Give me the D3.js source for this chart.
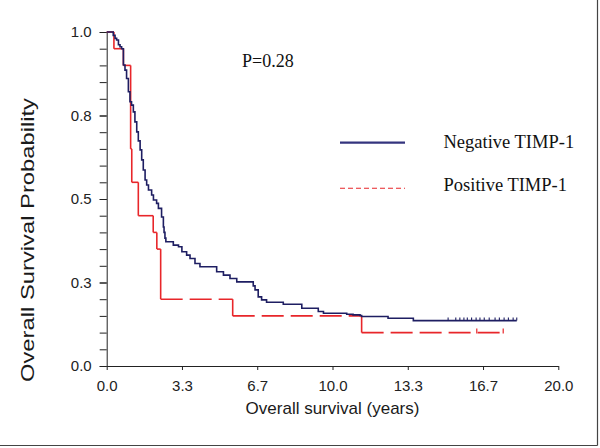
<!DOCTYPE html>
<html><head><meta charset="utf-8">
<script src="https://cdn.jsdelivr.net/npm/d3@7"></script>
<style>html,body{margin:0;padding:0;background:#fff;}svg{display:block;}</style>
</head><body>
<svg id="chart" width="600" height="448"></svg>
<script>
// ---- data ----
const xTickValues = [0, 10/3, 20/3, 10, 40/3, 50/3, 20];
const xTickLabels = ["0.0", "3.3", "6.7", "10.0", "13.3", "16.7", "20.0"];
const yTickValues = [0, 0.25, 0.5, 0.75, 1.0];
const yTickLabels = ["0.0", "0.3", "0.5", "0.8", "1.0"];
const yMinorTicks = d3.range(0, 21).map(i => i * 0.05);

// Negative TIMP-1: [time (years), survival after step]
const negativeSteps = [
  [0,1.000],[0.29,0.990],[0.37,0.981],[0.44,0.976],[0.52,0.962],[0.59,0.956],[0.66,0.950],
  [0.74,0.901],[0.81,0.886],[0.88,0.861],[0.96,0.821],[1.03,0.791],[1.10,0.781],[1.18,0.761],
  [1.25,0.731],[1.33,0.701],[1.40,0.674],[1.48,0.647],[1.55,0.617],[1.62,0.587],[1.70,0.557],
  [1.77,0.542],[1.85,0.527],[1.99,0.512],[2.07,0.497],[2.21,0.487],[2.29,0.472],[2.43,0.446],
  [2.51,0.416],[2.54,0.400],[2.58,0.383],[2.62,0.372],[2.95,0.362],[3.18,0.357],[3.33,0.342],
  [3.54,0.332],[3.69,0.322],[3.91,0.307],[4.13,0.297],[4.87,0.282],[5.17,0.272],[5.46,0.262],
  [5.76,0.252],[6.49,0.240],[6.57,0.228],[6.71,0.207],[6.86,0.198],[7.08,0.191],[7.82,0.185],
  [8.64,0.173],[9.37,0.163],[9.60,0.158],[10.63,0.155],[10.91,0.153],[11.22,0.151],[11.29,0.148],
  [12.46,0.143],[13.58,0.136]
];
const negativeEnd = 18.16;
const negativeCensored = [15.12,15.46,15.64,15.82,15.97,16.16,16.36,16.53,16.72,16.94,17.20,17.39,17.60,17.79,18.00,18.16];

// Positive TIMP-1
const positiveSteps = [
  [0,1.00],[0.32,0.95],[0.74,0.90],[1.06,0.65],[1.11,0.55],[1.40,0.45],[2.06,0.40],
  [2.22,0.35],[2.39,0.20],[5.58,0.15],[11.29,0.10]
];
const positiveEnd = 17.56;
const positiveCensored = [16.39, 17.56];

const pValueText = "P=0.28";
const legendLabels = ["Negative TIMP-1", "Positive TIMP-1"];
const xTitle = "Overall survival (years)";
const yTitle = "Overall Survival Probability";

// ---- drawing ----
const navy = "#1e1e62", red = "#e8262a";
const svg = d3.select("#chart");
const x = d3.scaleLinear().domain([0, 20]).range([106.7, 558.3]);
const y = d3.scaleLinear().domain([0, 1]).range([366, 32]);

// outer frame (right & bottom edges)
svg.append("line").attr("x1",597.5).attr("x2",597.5).attr("y1",0).attr("y2",445.5).attr("stroke","#444").attr("stroke-width",1.2);
svg.append("line").attr("x1",0).attr("x2",597.5).attr("y1",445.5).attr("y2",445.5).attr("stroke","#444").attr("stroke-width",1.2);

// y axis minor ticks
const yMinor = svg.append("g").attr("transform", `translate(${x(0)},0)`)
  .call(d3.axisLeft(y).tickValues(yMinorTicks).tickFormat("").tickSize(7).tickSizeOuter(0));
yMinor.select(".domain").remove();
yMinor.selectAll("line").attr("stroke", "#222");

// y axis labels
const yAx = svg.append("g").attr("transform", `translate(${x(0)},0)`)
  .call(d3.axisLeft(y).tickValues(yTickValues).tickFormat((d,i) => yTickLabels[i]).tickSize(7).tickPadding(8).tickSizeOuter(0));
yAx.select(".domain").attr("stroke", "#222");
yAx.selectAll("line").attr("stroke", "#222");
yAx.selectAll("text").attr("font-family", "'Liberation Sans', Arial, sans-serif").attr("font-size", 15).attr("fill", "#222");

// x axis
const xAx = svg.append("g").attr("transform", `translate(0,${y(0)})`)
  .call(d3.axisBottom(x).tickValues(xTickValues).tickFormat((d,i) => xTickLabels[i]).tickSize(4).tickPadding(10).tickSizeOuter(0));
xAx.select(".domain").attr("stroke", "#222");
xAx.selectAll("line").attr("stroke", "#222");
xAx.selectAll("text").attr("font-family", "'Liberation Sans', Arial, sans-serif").attr("font-size", 15).attr("fill", "#222");

// axis titles
svg.append("text").attr("x", (x(0)+x(20))/2).attr("y", 414)
  .attr("text-anchor", "middle").attr("font-family", "'Liberation Sans', Arial, sans-serif")
  .attr("font-size", 17).attr("fill", "#1a1a1a").text(xTitle);
svg.append("text").attr("transform", "translate(34,240) rotate(-90)")
  .attr("text-anchor", "middle").attr("font-family", "'Liberation Sans', Arial, sans-serif")
  .attr("font-size", 18).attr("fill", "#1a1a1a")
  .attr("textLength", 284).attr("lengthAdjust", "spacingAndGlyphs").text(yTitle);

// Positive TIMP-1 (red): vertical drops solid, horizontal runs dashed per segment
const posG = svg.append("g");
positiveSteps.forEach((s, i) => {
  const tEnd = i < positiveSteps.length - 1 ? positiveSteps[i+1][0] : positiveEnd;
  posG.append("line").attr("x1", x(s[0])).attr("x2", x(tEnd)).attr("y1", y(s[1])).attr("y2", y(s[1]))
    .attr("stroke", red).attr("stroke-width", 1.6).attr("stroke-dasharray", "22,7");
  if (i > 0) {
    posG.append("line").attr("x1", x(s[0])).attr("x2", x(s[0])).attr("y1", y(positiveSteps[i-1][1])).attr("y2", y(s[1]))
      .attr("stroke", red).attr("stroke-width", 1.6);
  }
});
const posLast = positiveSteps[positiveSteps.length-1][1];
posG.selectAll(".cens").data(positiveCensored).join("line")
  .attr("x1", d => x(d)).attr("x2", d => x(d)).attr("y1", y(posLast) - 4).attr("y2", y(posLast) + 1)
  .attr("stroke", red).attr("stroke-width", 1.2);

// Negative TIMP-1 (navy) step curve
const negPts = negativeSteps.concat([[negativeEnd, negativeSteps[negativeSteps.length-1][1]]]);
svg.append("path").datum(negPts)
  .attr("d", d3.line().x(d => x(d[0])).y(d => y(d[1])).curve(d3.curveStepAfter))
  .attr("fill", "none").attr("stroke", navy).attr("stroke-width", 1.6);
const negLast = negativeSteps[negativeSteps.length-1][1];
svg.append("g").selectAll("line").data(negativeCensored).join("line")
  .attr("x1", d => x(d)).attr("x2", d => x(d)).attr("y1", y(negLast) - 3).attr("y2", y(negLast))
  .attr("stroke", navy).attr("stroke-width", 1.1);

// P value
svg.append("text").attr("x", 242).attr("y", 66.5)
  .attr("font-family", "'Liberation Serif', 'Times New Roman', serif").attr("font-size", 18)
  .attr("fill", "#111").text(pValueText);

// legend
svg.append("line").attr("x1", 340).attr("x2", 405).attr("y1", 142.7).attr("y2", 142.7)
  .attr("stroke", "#34347e").attr("stroke-width", 2.2);
svg.append("line").attr("x1", 340).attr("x2", 405).attr("y1", 188.3).attr("y2", 188.3)
  .attr("stroke", red).attr("stroke-width", 1.1).attr("stroke-dasharray", "5,3");
svg.append("text").attr("x", 443.5).attr("y", 148.3)
  .attr("font-family", "'Liberation Serif', 'Times New Roman', serif").attr("font-size", 18.5)
  .attr("fill", "#111").text(legendLabels[0]);
svg.append("text").attr("x", 443.5).attr("y", 190.5)
  .attr("font-family", "'Liberation Serif', 'Times New Roman', serif").attr("font-size", 18.5)
  .attr("fill", "#111").text(legendLabels[1]);
</script>
</body></html>
